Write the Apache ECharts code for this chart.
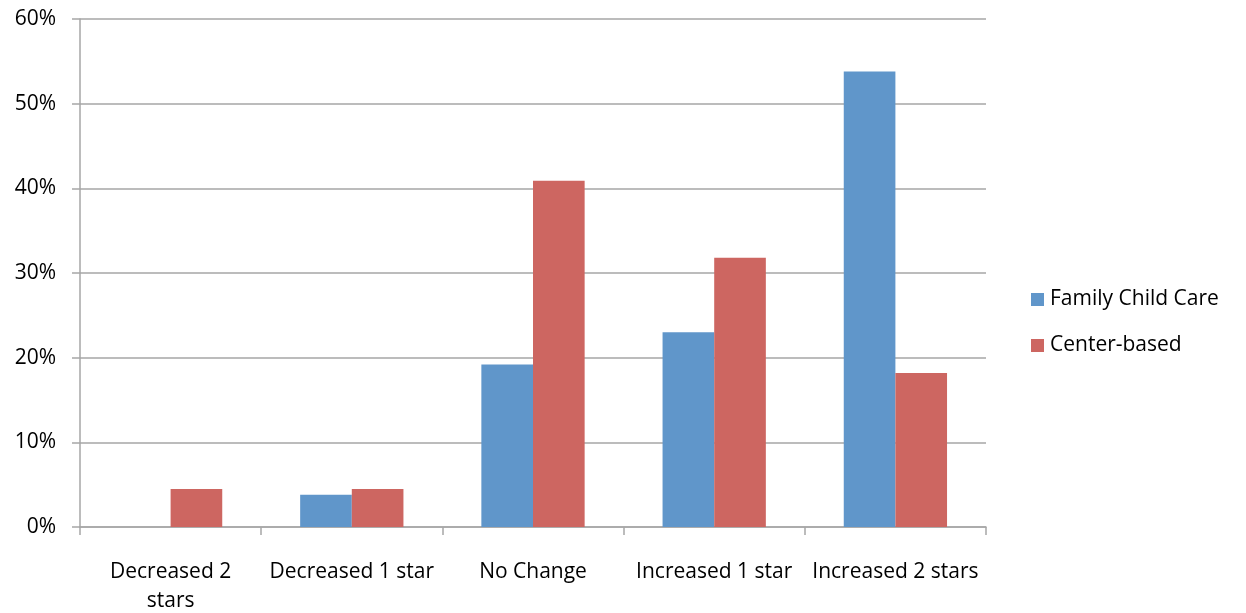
<!DOCTYPE html>
<html>
<head>
<meta charset="utf-8">
<script src="https://cdn.jsdelivr.net/npm/echarts@6/dist/echarts.min.js"></script>
<style>
  html, body { margin: 0; padding: 0; background: #fff; }
  #chart { width: 1246px; height: 613px; }
</style>
</head>
<body>
<div id="chart"></div>
<script>
// Change in star rating, share of programs by type
const categories = ['Decreased 2 stars', 'Decreased 1 star', 'No Change', 'Increased 1 star', 'Increased 2 stars'];
const categoryLabels = ['Decreased 2\nstars', 'Decreased 1 star', 'No Change', 'Increased 1 star', 'Increased 2 stars'];
const familyChildCare = [0, 3.8, 19.2, 23.0, 53.8];
const centerBased = [4.5, 4.5, 40.9, 31.8, 18.2];
const seriesNames = ['Family Child Care', 'Center-based'];

const FONT = '"Open Sans", "Liberation Sans", sans-serif';
const FONT_SIZE = 21;
const GRID_COLOR = '#a6a6a6';

const chart = echarts.init(document.getElementById('chart'), null, { renderer: 'canvas' });
chart.setOption({
  animation: false,
  textStyle: { fontFamily: FONT },
  grid: { left: 80, right: 260, top: 19, bottom: 86, containLabel: false, outerBoundsMode: 'none' },
  legend: {
    orient: 'vertical',
    left: 1026,
    top: 284,
    itemWidth: 13,
    itemHeight: 13,
    itemGap: 25,
    icon: 'rect',
    textStyle: { fontFamily: FONT, fontSize: FONT_SIZE, color: '#000', padding: [0, 0, 0, 1] },
    data: seriesNames
  },
  xAxis: {
    type: 'category',
    data: categories,
    axisLine: { lineStyle: { color: GRID_COLOR, width: 1.5 } },
    axisTick: { show: true, length: 8, lineStyle: { color: GRID_COLOR, width: 1.5 } },
    axisLabel: {
      interval: 0,
      margin: 31,
      fontSize: FONT_SIZE,
      color: '#000',
      lineHeight: 29,
      fontFamily: FONT,
      formatter: (v, i) => categoryLabels[i]
    }
  },
  yAxis: {
    type: 'value',
    min: 0,
    max: 60,
    interval: 10,
    axisLine: { show: true, lineStyle: { color: GRID_COLOR, width: 1.5 } },
    axisTick: { show: true, length: 8, lineStyle: { color: GRID_COLOR, width: 1.5 } },
    splitLine: { lineStyle: { color: GRID_COLOR, width: 1.5 } },
    axisLabel: {
      margin: 24,
      fontSize: FONT_SIZE,
      color: '#000',
      fontFamily: FONT,
      formatter: v => v + '%'
    }
  },
  series: [
    {
      name: seriesNames[0],
      type: 'bar',
      data: familyChildCare,
      barGap: '0%',
      barCategoryGap: '43%',
      itemStyle: { color: '#6096ca' }
    },
    {
      name: seriesNames[1],
      type: 'bar',
      data: centerBased,
      barGap: '0%',
      barCategoryGap: '43%',
      itemStyle: { color: '#cd6661' }
    }
  ]
});
</script>
</body>
</html>
